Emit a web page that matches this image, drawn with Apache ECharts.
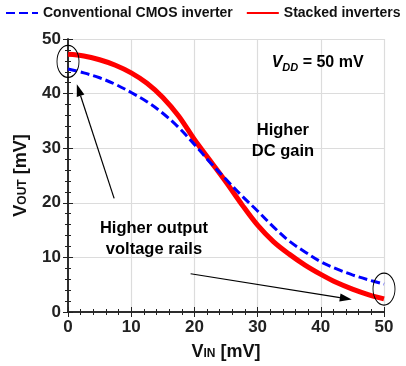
<!DOCTYPE html>
<html>
<head>
<meta charset="utf-8">
<script src="https://cdn.jsdelivr.net/npm/echarts@6/dist/echarts.min.js"></script>
<style>
html, body { margin: 0; padding: 0; background: #fff; }
#chart { width: 406px; height: 366px; }
</style>
</head>
<body>
<div id="chart"></div>
<script>
// V_IN sweep [mV]
const vin = [0, 2.5, 5, 7.5, 10, 12.5, 15, 17.5, 20, 22.5, 25, 27.5, 30, 32.5, 35, 37.5, 40, 42.5, 45, 47.5, 50]
// V_OUT [mV]
const voutCmos = [44.5, 43.8, 42.9, 41.7, 40.2, 38.5, 36.4, 33.8, 30.7, 27.4, 24.3, 21.3, 18.5, 15.6, 13.0, 11.0, 9.2, 7.9, 6.8, 5.9, 5.1]
const voutStacked = [47.2, 46.9, 46.2, 45.2, 43.8, 41.9, 39.3, 35.9, 31.6, 27.7, 23.8, 19.7, 15.9, 12.9, 10.6, 8.6, 6.9, 5.4, 4.2, 3.2, 2.4]
const seriesNames = ['Conventional CMOS inverter', 'Stacked inverters']
const xTicks = [0, 10, 20, 30, 40, 50]
const yTicks = [0, 10, 20, 30, 40, 50]

// annotation anchors in data units
const ellipseLeft = [0, 45.9]
const ellipseRight = [50, 4.2]
const arrowLeft = [[7.3, 20.8], [1.4, 41.7]]
const arrowRight = [[19.4, 7.0], [44.9, 2.3]]
const labelVdd = [39.5, 45.6]
const labelGain = [34.0, 31.3]
const labelRails = [13.6, 13.4]

const font = 'Liberation Sans, Arial, sans-serif'
const chart = echarts.init(document.getElementById('chart'))

function pairs (ys) {
    return vin.map(function (x, i) { return [x, ys[i]] })
}

const boxAxis = {
    type: 'value',
    min: 0,
    max: 50,
    interval: 10,
    axisLine: { show: true, lineStyle: { color: '#222', width: 1.5 } },
    axisTick: { show: true, inside: true, length: 5, lineStyle: { color: '#222' } },
    minorTick: { show: true, splitNumber: 5, length: 3, lineStyle: { color: '#222' } },
    axisLabel: { show: false },
    splitLine: { show: false }
}

const nameRich = {
    v: { fontSize: 18, fontWeight: 'bold', color: '#111', fontFamily: font },
    s: { fontSize: 12, fontWeight: 'bold', color: '#111', fontFamily: font, verticalAlign: 'bottom', padding: [0, 0, 1, 0] }
}

chart.setOption({
    animation: false,
    textStyle: { fontFamily: font },
    legend: {
        top: 6,
        left: 5,
        width: 401,
        padding: 0,
        itemWidth: 32,
        itemHeight: 10,
        itemGap: 13,
        data: seriesNames,
        itemStyle: { opacity: 0 },
        textStyle: { fontSize: 14, fontWeight: 'bold', color: '#111', fontFamily: font }
    },
    grid: { left: 68, right: 22, top: 39, bottom: 52 },
    xAxis: [
        {
            type: 'value',
            min: 0,
            max: 50,
            interval: 10,
            name: '{v|V}{s|IN}{v| [mV]}',
            nameLocation: 'middle',
            nameGap: 31,
            nameTextStyle: { rich: nameRich },
            axisLine: { show: true, onZero: false, lineStyle: { color: '#222', width: 1.5 } },
            axisTick: { show: true, inside: true, length: 5, lineStyle: { color: '#222' } },
            minorTick: { show: true, splitNumber: 5, length: 3, lineStyle: { color: '#222' } },
            axisLabel: { fontSize: 17, fontWeight: 'bold', color: '#222', margin: 7, customValues: xTicks },
            splitLine: { show: true, lineStyle: { color: '#dcdcdc', width: 1.2 } }
        },
        Object.assign({}, boxAxis, { position: 'top' })
    ],
    yAxis: [
        {
            type: 'value',
            min: 0,
            max: 50,
            interval: 10,
            name: '{v|V}{s|OUT}{v| [mV]}',
            nameLocation: 'middle',
            nameRotate: 90,
            nameGap: 38,
            nameTextStyle: { rich: nameRich },
            axisLine: { show: true, onZero: false, lineStyle: { color: '#222', width: 1.5 } },
            axisTick: { show: true, inside: true, length: 5, lineStyle: { color: '#222' } },
            minorTick: { show: true, splitNumber: 5, length: 3, lineStyle: { color: '#222' } },
            axisLabel: { fontSize: 17, fontWeight: 'bold', color: '#222', margin: 7, customValues: yTicks },
            splitLine: { show: true, lineStyle: { color: '#dcdcdc', width: 1.2 } }
        },
        Object.assign({}, boxAxis, { position: 'right' })
    ],
    series: [
        {
            name: seriesNames[0],
            type: 'line',
            smooth: 0.35,
            symbol: 'none',
            z: 3,
            itemStyle: { color: '#0000ff' },
            lineStyle: { color: '#0000ff', width: 3, type: [9, 4] },
            data: pairs(voutCmos)
        },
        {
            name: seriesNames[1],
            type: 'line',
            smooth: 0.35,
            symbol: 'none',
            z: 2,
            itemStyle: { color: '#ff0000' },
            lineStyle: { color: '#ff0000', width: 5 },
            data: pairs(voutStacked)
        }
    ]
})

function px (p) {
    return chart.convertToPixel({ gridIndex: 0 }, p)
}

function arrow (a) {
    const p0 = px(a[0])
    const p1 = px(a[1])
    const dx = p1[0] - p0[0]
    const dy = p1[1] - p0[1]
    const len = Math.sqrt(dx * dx + dy * dy)
    const ux = dx / len
    const uy = dy / len
    const hl = 12
    const hw = 4
    const bx = p1[0] - ux * hl
    const by = p1[1] - uy * hl
    return [
        { type: 'line', z: 10, shape: { x1: p0[0], y1: p0[1], x2: bx, y2: by }, style: { stroke: '#000', lineWidth: 1.2 } },
        { type: 'polygon', z: 10, shape: { points: [p1, [bx - uy * hw, by + ux * hw], [bx + uy * hw, by - ux * hw]] }, style: { fill: '#000' } }
    ]
}

function ellipse (c) {
    const p = px(c)
    return { type: 'circle', z: 10, x: p[0], y: p[1], scaleX: 11 / 16, shape: { cx: 0, cy: 0, r: 16 }, style: { fill: 'none', stroke: '#000', lineWidth: 1.3 } }
}

function label (c, text, rich) {
    const p = px(c)
    return {
        type: 'text', z: 10, x: p[0], y: p[1],
        style: { text: text, align: 'center', verticalAlign: 'middle', fontFamily: font, fontSize: 16.5, fontWeight: 'bold', fill: '#000', lineHeight: 21, rich: rich || {} }
    }
}

chart.setOption({
    graphic: [].concat(
        arrow(arrowLeft),
        arrow(arrowRight),
        [ellipse(ellipseLeft), ellipse(ellipseRight)],
        [
            label(labelVdd, '{i|V}{d|DD}{t| = 50 mV}', {
                i: { fontFamily: font, fontSize: 16, fontWeight: 'bold', fontStyle: 'italic', fill: '#000' },
                d: { fontFamily: font, fontSize: 11, fontWeight: 'bold', fontStyle: 'italic', fill: '#000', verticalAlign: 'bottom' },
                t: { fontFamily: font, fontSize: 16, fontWeight: 'bold', fill: '#000' }
            }),
            label(labelGain, 'Higher\nDC gain'),
            label(labelRails, 'Higher output\nvoltage rails')
        ]
    )
})
</script>
</body>
</html>
